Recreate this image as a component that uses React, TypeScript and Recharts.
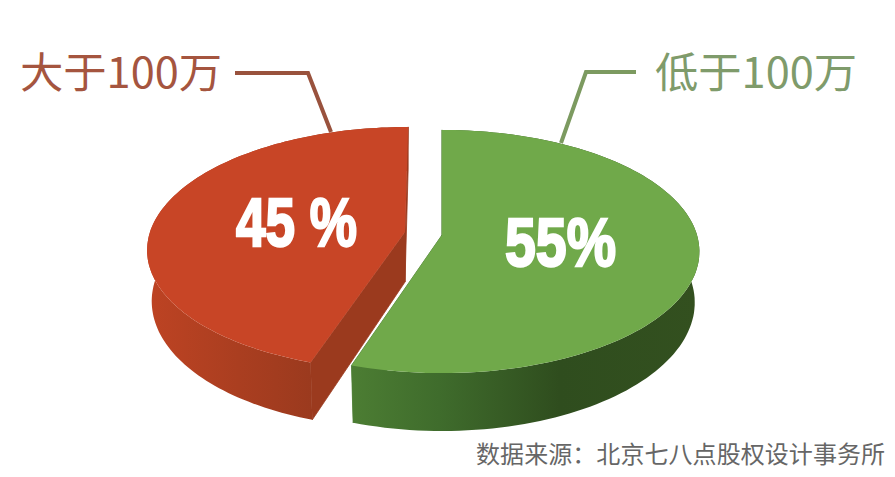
import React from 'react';
import { PieChart, Pie } from 'recharts';

const categories = ['大于100万', '低于100万'];
const shares = [45, 55];
const shareLabels = ['45 %', '55%'];
const sourceNote = '数据来源：北京七八点股权设计事务所';

const chartData = categories.map((name, i) => ({ name, value: shares[i], shareLabel: shareLabels[i] }));

const FONT = '"Noto Sans CJK SC", "Noto Sans", sans-serif';
const TILT = 0.136;
const FLATTEN = 0.468;
const DEPTH = 50;
const LOW_SHRINK = 0.982;

type Look = {
  dx: number; dy: number; skew: number; top: string; cut: string; wallId: string;
  wallStops: [number, string][]; wallX: [number, number];
  textColor: string; lineColor: string; leader: string; nameX: number; nameWidth: number;
  shareX: number; shareY: number; shareWidth: number;
};

const looks: Record<string, Look> = {
  '大于100万': {
    dx: -19, dy: 0, skew: 3.6, top: '#c84526', cut: '#9b3a1e', wallId: 'wallRed',
    wallStops: [[0, '#bd4323'], [0.55, '#aa3e20'], [1, '#9b3a1e']], wallX: [150, 312],
    textColor: '#a5553f', lineColor: '#99523d',
    leader: '235,73 308,73 331,132', nameX: 20, nameWidth: 202,
    shareX: 236, shareY: 246, shareWidth: 121,
  },
  '低于100万': {
    dx: 18, dy: 3, skew: 0, top: '#70a94a', cut: '#4e7f35', wallId: 'wallGreen',
    wallStops: [[0, '#4c7d33'], [0.25, '#3f6c2c'], [0.6, '#2f4d1e'], [1, '#33501f']], wallX: [352, 698],
    textColor: '#7f9b6b', lineColor: '#7c9a60',
    leader: '636,72 586,72 561,143', nameX: 655, nameWidth: 202,
    shareX: 505, shareY: 266, shareWidth: 111,
  },
};

// Projects a pie angle (in Recharts degrees) onto the tilted disc.
function projector(cx: number, cy: number, r: number, look: Look) {
  const ax = cx + look.dx;
  const ay = cy + look.dy;
  const at = (angle: number, drop = 0) => {
    const t = ((90 - angle) * Math.PI) / 180;
    const u = Math.sin(t);
    const v = Math.cos(t);
    const w = 1 + TILT * v;
    const shrink = drop ? LOW_SHRINK : 1;
    return [ax + ((r * u + look.skew * v) / w) * shrink, ay - (r * FLATTEN * v) / w + (drop * DEPTH) / w];
  };
  return { ax, ay, at };
}

const toPath = (pts: number[][]) =>
  'M' + pts.map((p) => `${p[0].toFixed(1)},${p[1].toFixed(1)}`).join('L') + 'Z';

function Slice(props: any) {
  const { cx, cy, outerRadius, startAngle, endAngle, payload } = props;
  const look = looks[payload.name];
  const { ax, ay, at } = projector(cx, cy, outerRadius, look);
  const steps = 120;
  const rim: number[][] = [];
  const rimLow: number[][] = [];
  for (let i = 0; i <= steps; i++) {
    const angle = startAngle + ((endAngle - startAngle) * i) / steps;
    rim.push(at(angle));
    rimLow.push(at(angle, 1));
  }
  const apex = [ax, ay];
  const apexLow = [ax, ay + DEPTH];
  const wall = [...rim, ...rimLow.slice().reverse()];
  const cutA = [apex, rim[0], rimLow[0], apexLow];
  const cutB = [apex, rim[steps], rimLow[steps], apexLow];
  const top = [apex, ...rim];
  return (
    <g>
      <defs>
        <linearGradient id={look.wallId} gradientUnits="userSpaceOnUse" x1={look.wallX[0]} y1={0} x2={look.wallX[1]} y2={0}>
          {look.wallStops.map(([o, c]) => (
            <stop key={o} offset={o} stopColor={c} />
          ))}
        </linearGradient>
      </defs>
      <path d={toPath(cutA)} fill={look.cut} stroke={look.cut} strokeWidth={0.8} />
      <path d={toPath(cutB)} fill={look.cut} stroke={look.cut} strokeWidth={0.8} />
      <path d={toPath(wall)} fill={`url(#${look.wallId})`} />
      <path d={toPath(top)} fill={look.top} />
    </g>
  );
}

function SliceLabel(props: any) {
  const look = looks[props.payload.name];
  return (
    <g>
      <polyline points={look.leader} fill="none" stroke={look.lineColor} strokeWidth={4} />
      <text x={look.nameX} y={88} fontFamily={FONT} fontSize={42} fill={look.textColor}
        textLength={look.nameWidth} lengthAdjust="spacingAndGlyphs">
        {props.payload.name}
      </text>
      <text x={look.shareX} y={look.shareY} fontFamily='"Liberation Sans", sans-serif' fontWeight={700} fontSize={69}
        fill="#ffffff" stroke="#ffffff" strokeWidth={2.4} textLength={look.shareWidth} lengthAdjust="spacingAndGlyphs">
        {props.payload.shareLabel}
      </text>
    </g>
  );
}

export default function App() {
  return (
    <div style={{ position: 'absolute', left: 0, top: 0, width: 895, height: 477, background: '#ffffff' }}>
      <PieChart width={895} height={477} margin={{ top: 0, right: 0, bottom: 0, left: 0 }}>
        <Pie
          data={chartData}
          dataKey="value"
          nameKey="name"
          cx={424}
          cy={232}
          innerRadius={0}
          outerRadius={255}
          startAngle={-108}
          endAngle={-468}
          stroke="none"
          isAnimationActive={false}
          shape={Slice}
          label={SliceLabel}
          labelLine={false}
        />
        <text x={476} y={463} fontFamily={FONT} fontSize={24} fill="#666666" textLength={409}>
          {sourceNote}
        </text>
      </PieChart>
    </div>
  );
}
